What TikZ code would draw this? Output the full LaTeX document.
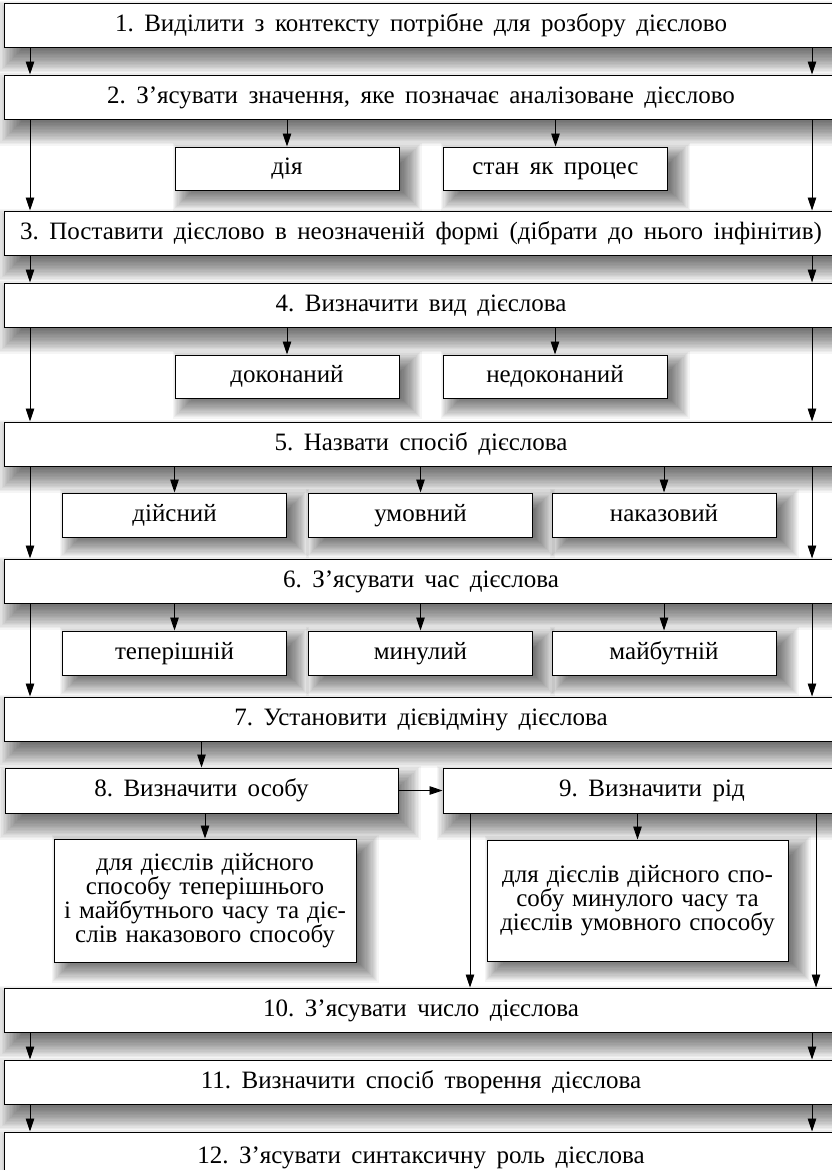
\documentclass[tikz,border=0pt]{standalone}
\usepackage{fontspec}
\setmainfont{Liberation Serif}
\usetikzlibrary{arrows.meta,calc}
\pgfdeclarelayer{back}\pgfdeclarelayer{bg}\pgfsetlayers{back,bg,main}
\newcommand\wideSp{\frenchspacing\spaceskip=10.5pt\relax}
\newcommand\midSp{\frenchspacing\spaceskip=8pt\relax}
\tikzset{
 box/.style={draw, fill=white, line width=1pt, inner sep=0pt, font=\fontsize{25}{24}\selectfont, execute at begin node=\wideSp, text height=17pt, text depth=5pt},
 mainbox/.style={box, minimum width=834pt, minimum height=44pt},
 subbox/.style={box, minimum width=224pt, minimum height=43pt},
 multibox/.style={draw, fill=white, line width=1pt, inner sep=0pt, align=center, font=\fontsize{25}{24}\selectfont, execute at begin node=\midSp},
 arr/.style={line width=0.9pt, -{Triangle[length=13pt,width=8.5pt]}},
}
\newcommand\shd[4]{%
 \begin{pgfonlayer}{bg}
 \foreach \sh in {-10,...,10}{
  \fill[black,opacity=.04] ($(#1.south west)+({#2-(\sh)*#4/10},{#3+(\sh)*#4/10})$) rectangle ($(#1.north east)+({#2+(\sh)*#4/10},{#3-(\sh)*#4/10})$);}
 \end{pgfonlayer}}
\begin{document}
\begin{tikzpicture}[x=1pt,y=-1pt]
\begin{pgfonlayer}{back}
\fill[white] (0,0) rectangle (832,1170);
\end{pgfonlayer}
\useasboundingbox (0,0) rectangle (832,1170);
\coordinate (L) at (30,0);
\coordinate (R) at (812,0);
\coordinate (L9) at (470,0);
\coordinate (R9) at (816,0);
% main boxes
\node[mainbox] (b1) at (421,25) {1. Виділити з контексту потрібне для розбору дієслово};
\node[mainbox] (b2) at (421,97) {2. З’ясувати значення, яке позначає аналізоване дієслово};
\node[mainbox] (b3) at (421,233) {3. Поставити дієслово в неозначеній формі (дібрати до нього інфінітив)};
\node[mainbox] (b4) at (421,305) {4. Визначити вид дієслова};
\node[mainbox] (b5) at (421,444) {5. Назвати спосіб дієслова};
\node[mainbox] (b6) at (421,581) {6. З’ясувати час дієслова};
\node[mainbox] (b7) at (421,719) {7. Установити дієвідміну дієслова};
\node[box, minimum width=393pt, minimum height=45pt] (b8) at (201.5,790.5) {8. Визначити особу};
\node[box, minimum width=418pt, minimum height=45pt] (b9) at (652,790.5) {9. Визначити рід};
\node[mainbox] (b10) at (421,1010) {10. З’ясувати число дієслова};
\node[mainbox] (b11) at (421,1082) {11. Визначити спосіб творення дієслова};
\node[mainbox, minimum height=50pt] (b12) at (421,1157) {12. З’ясувати синтаксичну роль дієслова};
% sub boxes
\node[subbox] (s2a) at (287,168.5) {дія};
\node[subbox] (s2b) at (555.5,168.5) {стан як процес};
\node[subbox] (s4a) at (287,376.5) {доконаний};
\node[subbox] (s4b) at (555,376.5) {недоконаний};
\node[subbox, minimum height=44pt] (s5a) at (174.5,515) {дійсний};
\node[subbox, minimum height=44pt] (s5b) at (420.5,515) {умовний};
\node[subbox, minimum height=44pt] (s5c) at (664,515) {наказовий};
\node[subbox, minimum height=44pt] (s6a) at (174.5,653) {теперішній};
\node[subbox, minimum height=44pt] (s6b) at (420.5,653) {минулий};
\node[subbox, minimum height=44pt] (s6c) at (664,653) {майбутній};
\node[multibox, minimum width=302pt, minimum height=123pt] (s8) at (205,900.5) {для дієслів дійсного\\способу теперішнього\\і майбутнього часу та діє-\\слів наказового способу};
\node[multibox, minimum width=301pt, minimum height=121pt] (s9) at (637.5,900.5) {для дієслів дійсного спо-\\собу минулого часу та\\дієслів умовного способу};
% shadows
\foreach \n in {b1,b2,b3,b4,b5,b6,b7,b8,b9,b10,b11,b12}{\shd{\n}{8}{12}{14}}
\foreach \n in {s2a,s2b,s4a,s4b,s5a,s5b,s5c,s6a,s6b,s6c,s8,s9}{\shd{\n}{10}{8}{12}}
% connectors
\foreach \a/\b in {b1/b2,b2/b3,b3/b4,b4/b5,b5/b6,b6/b7,b10/b11,b11/b12}{
  \draw[arr] (\a.south -| L) -- (\b.north -| L);
  \draw[arr] (\a.south -| R) -- (\b.north -| R);}
\foreach \a/\b in {b2/s2a,b2/s2b,b4/s4a,b4/s4b,b5/s5a,b5/s5b,b5/s5c,b6/s6a,b6/s6b,b6/s6c,b7/b8,b8/s8,b9/s9}{
  \draw[arr] (\a.south -| \b.north) -- (\b.north);}
\draw[arr] (b8.east) -- (b9.west);
\draw[arr] (b9.south -| L9) -- (b10.north -| L9);
\draw[arr] (b9.south -| R9) -- (b10.north -| R9);
\end{tikzpicture}
\end{document}
